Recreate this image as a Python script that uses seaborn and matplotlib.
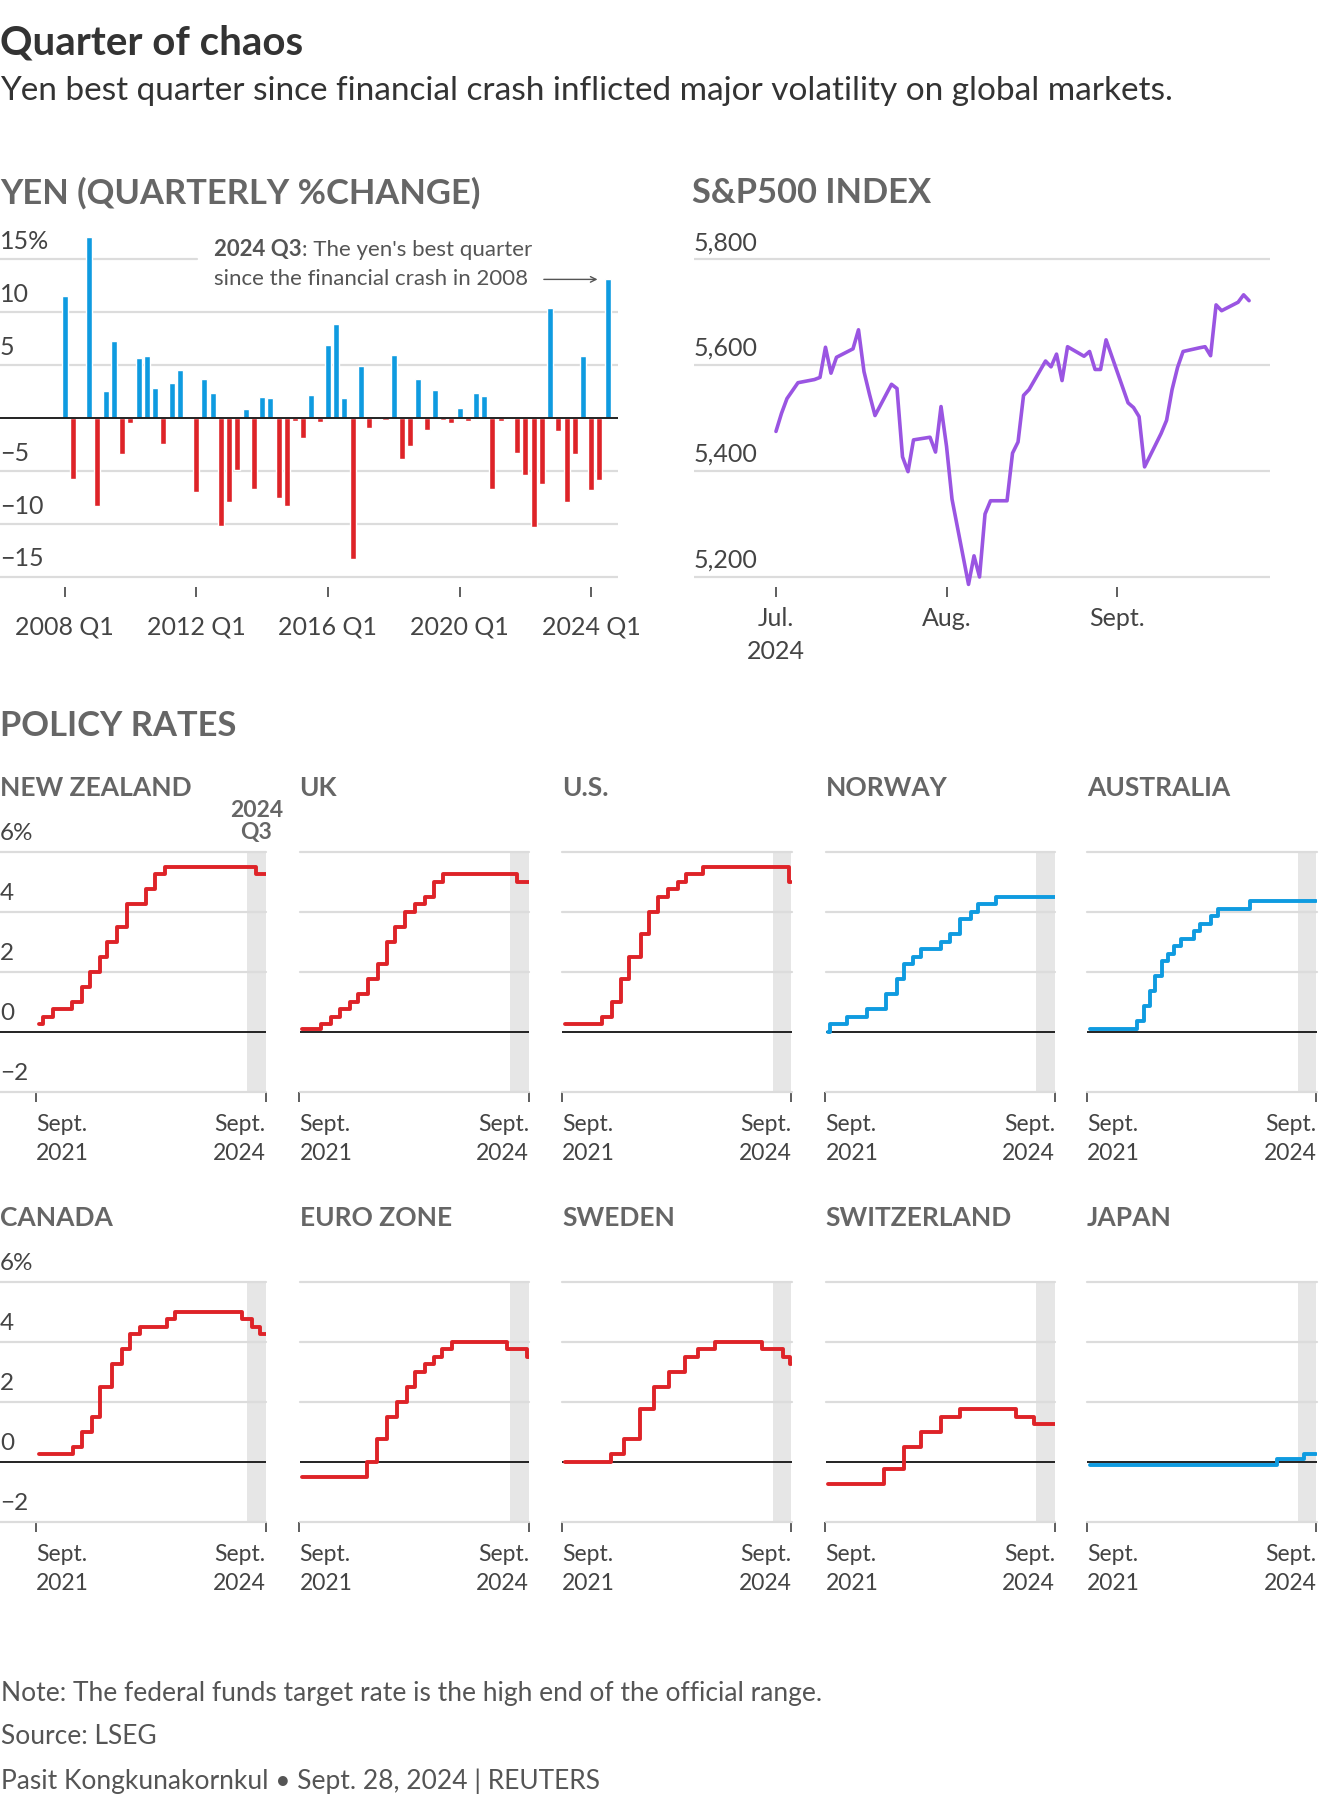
import numpy as np
import pandas as pd
import matplotlib
matplotlib.use("Agg")
import matplotlib.pyplot as plt
import matplotlib.dates as mdates
import seaborn as sns

# ---- yen quarterly % change, 2008 Q1 .. 2024 Q3 ----
yen_pct = [11.5, -5.75, 0.0, 17.1, -8.3, 2.6, 7.3, -3.4, -0.5, 5.7, 5.9, 2.8,
           -2.4, 3.3, 4.5, 0.1, -7.0, 3.7, 2.4, -10.2, -7.9, -4.9, 0.9, -6.7,
           2.0, 1.9, -7.5, -8.3, -0.3, -1.9, 2.2, -0.4, 6.9, 8.9, 1.9, -13.3,
           4.9, -0.9, -0.1, -0.2, 6.0, -3.9, -2.6, 3.7, -1.1, 2.7, -0.2, -0.5,
           1.0, -0.3, 2.4, 2.1, -6.7, -0.3, -0.1, -3.3, -5.4, -10.3, -6.2, 10.4,
           -1.2, -7.9, -3.4, 5.9, -6.8, -5.8, 13.1]
quarter_labels = [f"{2008 + i // 4} Q{i % 4 + 1}" for i in range(len(yen_pct))]
yen_xticks = ["2008 Q1", "2012 Q1", "2016 Q1", "2020 Q1", "2024 Q1"]
yen_yvals = [15, 10, 5, -5, -10, -15]
yen_ylabels = ["15%", "10", "5", "\u22125", "\u221210", "\u221215"]

# ---- S&P 500 daily close ----
spx_dates = ["2024-07-01", "2024-07-02", "2024-07-03", "2024-07-05", "2024-07-08",
             "2024-07-09", "2024-07-10", "2024-07-11", "2024-07-12", "2024-07-15",
             "2024-07-16", "2024-07-17", "2024-07-18", "2024-07-19", "2024-07-22",
             "2024-07-23", "2024-07-24", "2024-07-25", "2024-07-26", "2024-07-29",
             "2024-07-30", "2024-07-31", "2024-08-01", "2024-08-02", "2024-08-05",
             "2024-08-06", "2024-08-07", "2024-08-08", "2024-08-09", "2024-08-12",
             "2024-08-13", "2024-08-14", "2024-08-15", "2024-08-16", "2024-08-19",
             "2024-08-20", "2024-08-21", "2024-08-22", "2024-08-23", "2024-08-26",
             "2024-08-27", "2024-08-28", "2024-08-29", "2024-08-30", "2024-09-03",
             "2024-09-04", "2024-09-05", "2024-09-06", "2024-09-09", "2024-09-10",
             "2024-09-11", "2024-09-12", "2024-09-13", "2024-09-16", "2024-09-17",
             "2024-09-18", "2024-09-19", "2024-09-20", "2024-09-23", "2024-09-24",
             "2024-09-25"]
spx_close = [5475, 5509, 5537, 5567, 5573, 5577, 5634, 5585, 5615, 5631,
             5667, 5588, 5545, 5505, 5564, 5556, 5427, 5399, 5459, 5464,
             5436, 5522, 5447, 5347, 5186, 5240, 5200, 5319, 5344, 5344,
             5434, 5455, 5543, 5554, 5608, 5597, 5621, 5571, 5635, 5617,
             5626, 5592, 5592, 5648, 5529, 5520, 5503, 5408, 5471, 5496,
             5554, 5596, 5626, 5633, 5635, 5618, 5714, 5703, 5719, 5733,
             5722]
spx_yvals = [5800, 5600, 5400, 5200]
spx_ylabels = ["5,800", "5,600", "5,400", "5,200"]
spx_xticks = ["2024-07-01", "2024-08-01", "2024-09-01"]
spx_xlabels = ["Jul.\n2024", "Aug.", "Sept."]

# ---- policy rates (step changes) ----
nz_dates = ["2021-09-15", "2021-10-06", "2021-11-24", "2022-02-23", "2022-04-13",
            "2022-05-25", "2022-07-13", "2022-08-17", "2022-10-05", "2022-11-23",
            "2023-02-22", "2023-04-05", "2023-05-24", "2024-08-14"]
nz_rates = [0.25, 0.5, 0.75, 1.0, 1.5, 2.0, 2.5, 3.0, 3.5, 4.25, 4.75, 5.25, 5.5, 5.25]
uk_dates = ["2021-09-15", "2021-12-16", "2022-02-03", "2022-03-17", "2022-05-05",
            "2022-06-16", "2022-08-04", "2022-09-22", "2022-11-03", "2022-12-15",
            "2023-02-02", "2023-03-23", "2023-05-11", "2023-06-22", "2023-08-03",
            "2024-08-01"]
uk_rates = [0.1, 0.25, 0.5, 0.75, 1.0, 1.25, 1.75, 2.25, 3.0, 3.5, 4.0, 4.25, 4.5,
            5.0, 5.25, 5.0]
us_dates = ["2021-09-15", "2022-03-16", "2022-05-04", "2022-06-15", "2022-07-27",
            "2022-09-21", "2022-11-02", "2022-12-14", "2023-02-01", "2023-03-22",
            "2023-05-03", "2023-07-26", "2024-09-18"]
us_rates = [0.25, 0.5, 1.0, 1.75, 2.5, 3.25, 4.0, 4.5, 4.75, 5.0, 5.25, 5.5, 5.0]
no_dates = ["2021-09-15", "2021-09-24", "2021-12-16", "2022-03-24", "2022-06-23",
            "2022-08-18", "2022-09-22", "2022-11-03", "2022-12-15", "2023-03-23",
            "2023-05-04", "2023-06-22", "2023-08-17", "2023-09-21", "2023-12-14"]
no_rates = [0.0, 0.25, 0.5, 0.75, 1.25, 1.75, 2.25, 2.5, 2.75, 3.0, 3.25, 3.75,
            4.0, 4.25, 4.5]
au_dates = ["2021-09-15", "2022-05-03", "2022-06-07", "2022-07-05", "2022-08-02",
            "2022-09-06", "2022-10-04", "2022-11-01", "2022-12-06", "2023-02-07",
            "2023-03-07", "2023-05-02", "2023-06-06", "2023-11-07"]
au_rates = [0.1, 0.35, 0.85, 1.35, 1.85, 2.35, 2.6, 2.85, 3.1, 3.35, 3.6, 3.85,
            4.1, 4.35]
ca_dates = ["2021-09-15", "2022-03-02", "2022-04-13", "2022-06-01", "2022-07-13",
            "2022-09-07", "2022-10-26", "2022-12-07", "2023-01-25", "2023-06-07",
            "2023-07-12", "2024-06-05", "2024-07-24", "2024-09-04"]
ca_rates = [0.25, 0.5, 1.0, 1.5, 2.5, 3.25, 3.75, 4.25, 4.5, 4.75, 5.0, 4.75,
            4.5, 4.25]
ez_dates = ["2021-09-15", "2022-07-27", "2022-09-14", "2022-11-02", "2022-12-21",
            "2023-02-08", "2023-03-22", "2023-05-10", "2023-06-21", "2023-08-02",
            "2023-09-20", "2024-06-12", "2024-09-18"]
ez_rates = [-0.5, 0.0, 0.75, 1.5, 2.0, 2.5, 3.0, 3.25, 3.5, 3.75, 4.0, 3.75, 3.5]
se_dates = ["2021-09-15", "2022-04-28", "2022-06-30", "2022-09-20", "2022-11-24",
            "2023-02-09", "2023-04-26", "2023-06-29", "2023-09-21", "2024-05-08",
            "2024-08-20", "2024-09-25"]
se_rates = [0.0, 0.25, 0.75, 1.75, 2.5, 3.0, 3.5, 3.75, 4.0, 3.75, 3.5, 3.25]
ch_dates = ["2021-09-15", "2022-06-16", "2022-09-22", "2022-12-15", "2023-03-23",
            "2023-06-22", "2024-03-21", "2024-06-20"]
ch_rates = [-0.75, -0.25, 0.5, 1.0, 1.5, 1.75, 1.5, 1.25]
jp_dates = ["2021-09-15", "2024-03-19", "2024-07-31"]
jp_rates = [-0.1, 0.1, 0.25]

country_names = ["NEW ZEALAND", "UK", "U.S.", "NORWAY", "AUSTRALIA",
                 "CANADA", "EURO ZONE", "SWEDEN", "SWITZERLAND", "JAPAN"]
country_colors = ["red", "red", "red", "blue", "blue",
                  "red", "red", "red", "red", "blue"]
rate_yvals = [6, 4, 2, 0, -2]
rate_ylabels = ["6%", "4", "2", "0", "\u22122"]

# ---- style ----
W, H = 1320, 1820
RED = "#de2328"
BLUE = "#0f9be0"
PURPLE = "#9a55e2"
DARK = "#333333"
HEAD = "#666666"
TICK = "#444444"
GRID = "#dcdcdc"
SHADE = "#e6e6e6"

sns.set_style("white")
plt.rcParams["font.family"] = ["Lato", "DejaVu Sans"]

fig = plt.figure(figsize=(W / 100, H / 100), dpi=100)


def px_axes(left, top, right, bottom):
    return fig.add_axes([left / W, 1 - bottom / H, (right - left) / W, (bottom - top) / H])


def ftext(x, y, s, **kw):
    return fig.text(x / W, 1 - y / H, s, **kw)


def clean(ax):
    for s in ax.spines.values():
        s.set_visible(False)
    ax.set_xlabel("")
    ax.set_ylabel("")
    ax.set_yticks([])


def ylabels(ax, vals, labels, size, off=13):
    for v, lab in zip(vals, labels):
        ax.annotate(lab, xy=(0, v), xycoords=ax.get_yaxis_transform(),
                    xytext=(0, off), textcoords="offset points", ha="left",
                    va="center", fontsize=size, color=TICK,
                    annotation_clip=False)


# ---- titles ----
ftext(0, 43, "Quarter of chaos", fontsize=29, fontweight="bold", color=DARK, va="center")
ftext(0, 91, "Yen best quarter since financial crash inflicted major volatility on global markets.",
      fontsize=24, color=DARK, va="center")
ftext(0, 193, "YEN (QUARTERLY %CHANGE)", fontsize=24.8, fontweight="bold", color=HEAD, va="center")
ftext(692, 193, "S&P500 INDEX", fontsize=24.8, fontweight="bold", color=HEAD, va="center")

# ---- yen bars ----
ax = px_axes(0, 233, 618, 587)
yen_df = pd.DataFrame({"quarter": quarter_labels, "pct": yen_pct})
yen_df["dir"] = np.where(yen_df["pct"] > 0, "up", "down")
sns.barplot(data=yen_df, x="quarter", y="pct", hue="dir", palette={"up": BLUE, "down": RED},
            dodge=False, width=0.73, saturation=1, legend=False, ax=ax, zorder=3)
ax.set_xlim(-7.84, 67.25)
ax.set_ylim(-15.94, 17.48)
clean(ax)
for v in [10, 5, -5, -10, -15]:
    ax.axhline(v, color=GRID, lw=1.6, zorder=1)
ax.axhline(15, xmax=197 / 618, color=GRID, lw=1.6, zorder=1)
ax.axhline(0, color="#222222", lw=1.4, zorder=4)
ylabels(ax, yen_yvals, yen_ylabels, 18)
ax.set_xticks([quarter_labels.index(q) for q in yen_xticks])
ax.set_xticklabels(yen_xticks)
ax.tick_params(axis="x", length=7.2, width=1.1, color="#333333", pad=13,
               labelsize=18, labelcolor=TICK, bottom=True)

q3 = quarter_labels.index("2024 Q3")
note_x = 18.2
ax.text(note_x, 15.9, "2024 Q3", fontsize=16, fontweight="bold", color="#555555",
        ha="left", va="center")
fig.canvas.draw()
rend = fig.canvas.get_renderer()
bold_end = ax.texts[-1].get_window_extent(rend).x1
x_after = ax.transData.inverted().transform((bold_end, 0))[0]
ax.text(x_after, 15.9, ": The yen's best quarter", fontsize=16,
        color="#555555", ha="left", va="center")
ax.text(note_x, 13.15, "since the financial crash in 2008", fontsize=16,
        color="#555555", ha="left", va="center")
ax.annotate("", xy=(q3 - 0.9, 13.1), xytext=(57.9, 13.1),
            arrowprops=dict(arrowstyle="->", color="#555555", lw=1.0))

# ---- S&P 500 ----
ax = px_axes(694, 233, 1270, 587)
spx_df = pd.DataFrame({"date": pd.to_datetime(spx_dates), "close": spx_close})
sns.lineplot(data=spx_df, x="date", y="close", color=PURPLE, linewidth=2.6, ax=ax, zorder=3)
jul1 = mdates.date2num(pd.Timestamp("2024-07-01"))
sep1 = mdates.date2num(pd.Timestamp("2024-09-01"))
ax.set_xlim(jul1 - 14.9, sep1 + 27.8)
ax.set_ylim(5181.1, 5849.8)
clean(ax)
for v in spx_yvals:
    ax.axhline(v, color=GRID, lw=1.6, zorder=1)
ylabels(ax, spx_yvals, spx_ylabels, 18, off=12)
ax.set_xticks([mdates.date2num(pd.Timestamp(d)) for d in spx_xticks])
ax.set_xticklabels(spx_xlabels)
ax.tick_params(axis="x", length=7.2, width=1.1, color="#333333", pad=7,
               labelsize=18, labelcolor=TICK, bottom=True)
for lab in ax.get_xticklabels():
    lab.set_linespacing(1.55)

# ---- policy rates ----
ftext(0, 726, "POLICY RATES", fontsize=24.8, fontweight="bold", color=HEAD, va="center")

all_dates = [nz_dates, uk_dates, us_dates, no_dates, au_dates,
             ca_dates, ez_dates, se_dates, ch_dates, jp_dates]
all_rates = [nz_rates, uk_rates, us_rates, no_rates, au_rates,
             ca_rates, ez_rates, se_rates, ch_rates, jp_rates]
x_start = pd.Timestamp("2021-09-01")
x_end = pd.Timestamp("2024-09-30")
shade_start = pd.Timestamp("2024-07-01")
col_left = [36, 299.5, 562, 825.5, 1087]
panel_w = 229.5
row_top = [851.7, 1281.7]
row_title = [788, 1218]
px_per_day = panel_w / (x_end - x_start).days
xs = mdates.date2num(x_start)
xe = mdates.date2num(x_end)

for i, name in enumerate(country_names):
    r, c = divmod(i, 5)
    left = col_left[c]
    top = row_top[r]
    ax_left = 0 if c == 0 else left
    ax = px_axes(ax_left, top, left + panel_w, top + 240)
    d = pd.to_datetime(all_dates[i] + ["2024-09-30"])
    v = all_rates[i] + [all_rates[i][-1]]
    ax.axvspan(shade_start, x_end, color=SHADE, lw=0, zorder=0)
    for g in [6, 4, 2, -2]:
        ax.axhline(g, color=GRID, lw=1.6, zorder=1, clip_on=False)
    ax.axhline(0, color="#222222", lw=1.4, zorder=2)
    col = RED if country_colors[i] == "red" else BLUE
    sns.lineplot(x=d, y=v, drawstyle="steps-post", color=col, linewidth=2.8,
                 ax=ax, zorder=3)
    ax.set_xlim(xs - (left - ax_left) / px_per_day, xe)
    ax.set_ylim(-2, 6)
    clean(ax)
    ax.set_xticks([xs, xe])
    ax.set_xticklabels(["Sept.\n2021", "Sept.\n2024"])
    ax.tick_params(axis="x", length=7.2, width=1.1, color="#333333", pad=9,
                   labelsize=16.5, labelcolor=TICK, bottom=True)
    labs = ax.get_xticklabels()
    labs[0].set_ha("left")
    labs[1].set_ha("right")
    for lab in labs:
        lab.set_linespacing(1.45)
    ftext(ax_left, row_title[r], name, fontsize=19, fontweight="bold", color=HEAD, va="center")
    if c == 0:
        ylabels(ax, rate_yvals, rate_ylabels, 17.5)
    if i == 0:
        mid = shade_start + (x_end - shade_start) / 2
        ax.annotate("2024\nQ3", xy=(mid, 6), xycoords="data", xytext=(0, 6),
                    textcoords="offset points", ha="center", va="bottom",
                    fontsize=16.5, fontweight="bold", color=HEAD, linespacing=1.1,
                    annotation_clip=False)

# ---- footer ----
ftext(1, 1693, "Note: The federal funds target rate is the high end of the official range.",
      fontsize=19, color="#555555", va="center")
ftext(1, 1737, "Source: LSEG", fontsize=19, color="#555555", va="center")
ftext(1, 1781, "Pasit Kongkunakornkul \u2022 Sept. 28, 2024 | REUTERS", fontsize=19,
      color="#555555", va="center")

fig.savefig("out.png", dpi=100)
